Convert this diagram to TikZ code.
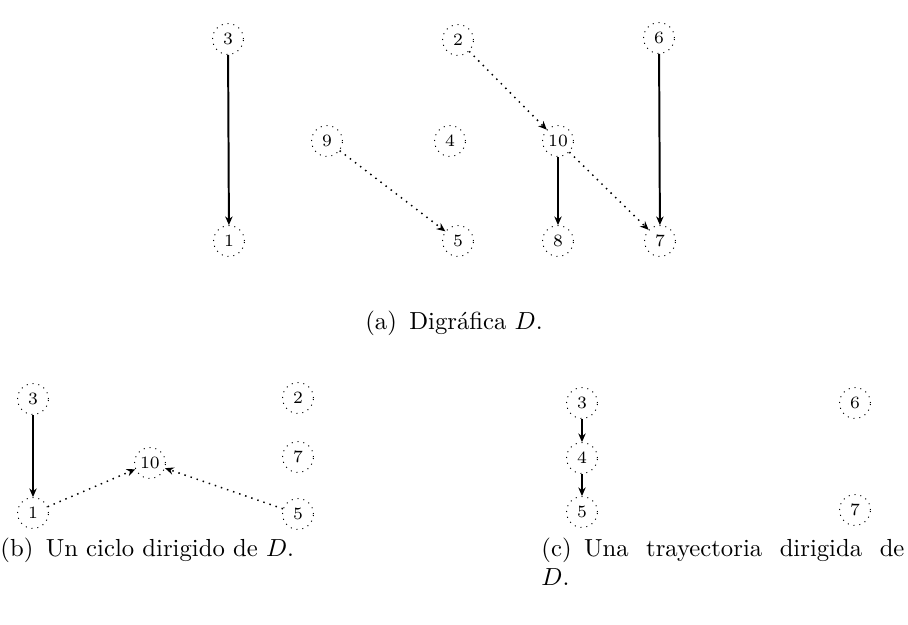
\documentclass[tikz,border=0pt]{standalone}
\usetikzlibrary{arrows.meta}
\begin{document}
\begin{tikzpicture}[x=0.405pt,y=-0.405pt,
 vtx/.style={circle,draw,dotted,minimum size=12.5pt,inner sep=0pt,font=\scriptsize},
 arcs/.style={line width=0.8pt,-{Stealth[length=3.5pt,width=3pt]}},
 arcd/.style={line width=0.6pt,dotted,-{Stealth[length=3.5pt,width=3pt]}},
 captxt/.style={font=\normalsize,inner sep=0pt}]
\useasboundingbox (0,0) rectangle (908,625);
% (a)
\node[vtx] (a3) at (228,39) {3};
\node[vtx] (a2) at (458,40) {2};
\node[vtx] (a6) at (659,38) {6};
\node[vtx] (a9) at (327,141) {9};
\node[vtx] (a4) at (450,141) {4};
\node[vtx] (a10) at (558,141) {10};
\node[vtx] (a1) at (229,241) {1};
\node[vtx] (a5) at (458,241) {5};
\node[vtx] (a8) at (558,241) {8};
\node[vtx] (a7) at (660,241) {7};
\draw[arcs] (a3) -- (a1);
\draw[arcd] (a2) -- (a10);
\draw[arcs] (a10) -- (a8);
\draw[arcs] (a6) -- (a7);
\draw[arcd] (a9) -- (a5);
\draw[arcd] (a10) -- (a7);
\node[captxt] (capa) at (454,323) {(a)\enspace Digr\'afica $D$.};
% (b)
\node[vtx] (b3) at (33,399) {3};
\node[vtx] (b1) at (33,513) {1};
\node[vtx] (b10) at (150,463) {10};
\node[vtx] (b2) at (298,398) {2};
\node[vtx] (b7) at (298,457) {7};
\node[vtx] (b5) at (298,514) {5};
\draw[arcs] (b3) -- (b1);
\draw[arcd] (b1) -- (b10);
\draw[arcd] (b5) -- (b10);
\node[captxt,anchor=north west] (capb) at (0,537) {(b)\enspace Un ciclo dirigido de $D$.};
% (c)
\node[vtx] (c3) at (582,403) {3};
\node[vtx] (c4) at (582,458) {4};
\node[vtx] (c5) at (582,512) {5};
\node[vtx] (c6) at (855,403) {6};
\node[vtx] (c7) at (855,510) {7};
\draw[arcs] (c3) -- (c4);
\draw[arcs] (c4) -- (c5);
\node[captxt,anchor=north west,text width=147pt,align=justify] (capc) at (541,537) {(c)\enspace Una trayectoria dirigida de\linebreak $D$.};
\end{tikzpicture}
\end{document}
